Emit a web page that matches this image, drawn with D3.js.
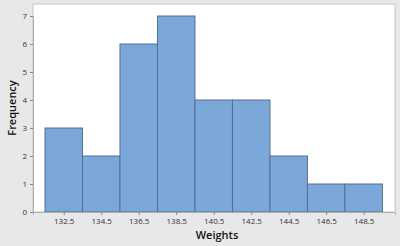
<!DOCTYPE html>
<html>
<head>
<meta charset="utf-8">
<script src="https://cdn.jsdelivr.net/npm/d3@7"></script>
<style>
  body { margin: 0; background: #e8e8e8; }
  svg { display: block; }
  .tick text { font-family: "Open Sans", "DejaVu Sans", sans-serif; font-size: 8px; fill: #333; }
</style>
</head>
<body>
<div id="chart"></div>
<script>
// bin midpoints and counts
var binMids = [132.5, 134.5, 136.5, 138.5, 140.5, 142.5, 144.5, 146.5, 148.5];
var counts = [3, 2, 6, 7, 4, 4, 2, 1, 1];
var yTicks = [0, 1, 2, 3, 4, 5, 6, 7];
var binWidth = 2;

var width = 400, height = 246;
var plot = { left: 33, top: 4, right: 395, bottom: 212 };

var svg = d3.select("#chart")
    .append("svg")
    .attr("width", width)
    .attr("height", height);

svg.append("rect")
    .attr("width", width)
    .attr("height", height)
    .attr("fill", "#e8e8e8");

// x scale: bins 131.5..149.5 sit between x=45 and x=382.7
var x = d3.scaleLinear()
    .domain([130.86, 150.17])
    .range([plot.left, plot.right]);

var y = d3.scaleLinear()
    .domain([0, 7])
    .range([plot.bottom, plot.bottom - 7 * 28]);

// plot area
svg.append("rect")
    .attr("x", plot.left)
    .attr("y", plot.top)
    .attr("width", plot.right - plot.left)
    .attr("height", plot.bottom - plot.top)
    .attr("fill", "#ffffff")
    .attr("stroke", "#c4c4c4")
    .attr("stroke-width", 1);

// bars
svg.append("g")
    .selectAll("rect")
    .data(binMids)
    .enter()
    .append("rect")
    .attr("x", function(d) { return x(d - binWidth / 2); })
    .attr("y", function(d, i) { return y(counts[i]); })
    .attr("width", function(d) { return x(d + binWidth / 2) - x(d - binWidth / 2); })
    .attr("height", function(d, i) { return y(0) - y(counts[i]); })
    .attr("fill", "#7ba7d9")
    .attr("stroke", "#55708f")
    .attr("stroke-width", 1);

// x axis
var xAxis = d3.axisBottom(x)
    .tickValues(binMids)
    .tickFormat(d3.format(".1f"))
    .tickSize(3)
    .tickPadding(3);

var gx = svg.append("g")
    .attr("transform", "translate(0," + plot.bottom + ")")
    .call(xAxis);
gx.select(".domain").attr("stroke", "#b0b0b0");
gx.selectAll(".tick line").attr("stroke", "#888");

// y axis
var yAxis = d3.axisLeft(y)
    .tickValues(yTicks)
    .tickFormat(d3.format("d"))
    .tickSize(3)
    .tickPadding(3);

var gy = svg.append("g")
    .attr("transform", "translate(" + plot.left + ",0)")
    .call(yAxis);
gy.select(".domain").attr("stroke", "#b0b0b0");
gy.selectAll(".tick line").attr("stroke", "#888");

// axis titles
svg.append("text")
    .attr("x", 217)
    .attr("y", 239)
    .attr("text-anchor", "middle")
    .style("font-family", "'Open Sans', 'DejaVu Sans', sans-serif")
    .style("font-size", "11px")
    .style("font-weight", "600")
    .style("fill", "#111")
    .text("Weights");

svg.append("text")
    .attr("transform", "translate(16,108) rotate(-90)")
    .attr("text-anchor", "middle")
    .style("font-family", "'Open Sans', 'DejaVu Sans', sans-serif")
    .style("font-size", "11px")
    .style("font-weight", "600")
    .style("fill", "#111")
    .text("Frequency");
</script>
</body>
</html>
